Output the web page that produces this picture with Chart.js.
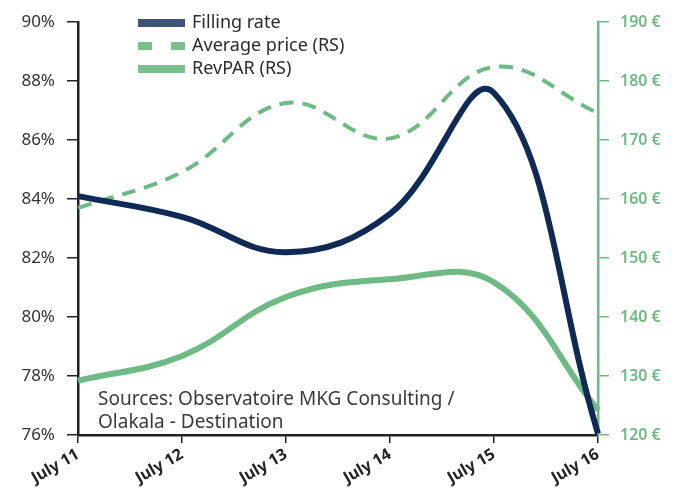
<!DOCTYPE html>
<html lang="en">
<head>
<meta charset="UTF-8">
<title>Filling rate and prices</title>
<script src="https://cdn.jsdelivr.net/npm/chart.js"></script>
<style>
  body { margin: 0; background: #fff; }
</style>
</head>
<body>
<canvas id="chart" width="689" height="496"></canvas>
<script>
var days = ['July 11', 'July 12', 'July 13', 'July 14', 'July 15', 'July 16'];
var fillingRate = [84.1, 83.4, 82.2, 83.5, 87.6, 76.05];
var averagePrice = [158.5, 164.6, 176.3, 170.3, 182.4, 174.6];
var revpar = [129.2, 133.4, 143.4, 146.4, 145.9, 124.2];
var sourceLines = ['Sources: Observatoire MKG Consulting /', 'Olakala - Destination'];

var navy = '#0f2b55';
var green = '#6dba85';
var fontFamily = '"Noto Sans", sans-serif';

// legend + source note drawn by hand
var notes = {
    id: 'notes',
    afterDraw: function (chart) {
        var ctx = chart.ctx;
        ctx.save();
        ctx.font = '18px ' + fontFamily;
        ctx.textBaseline = 'middle';
        chart.data.datasets.forEach(function (ds, i) {
            var y = 23 + i * 23;
            ctx.strokeStyle = ds.legendColor;
            ctx.lineWidth = 8;
            ctx.setLineDash(ds.borderDash ? [14, 19] : []);
            ctx.beginPath();
            ctx.moveTo(138, y);
            ctx.lineTo(185, y);
            ctx.stroke();
            ctx.setLineDash([]);
            ctx.fillStyle = '#2b2b2b';
            ctx.fillText(ds.label, 192, y);
        });
        ctx.font = '19px ' + fontFamily;
        ctx.fillStyle = '#3a3a3a';
        sourceLines.forEach(function (t, i) {
            ctx.fillText(t, 98, 400 + i * 23);
        });
        ctx.restore();
    }
};

new Chart(document.getElementById('chart'), {
    type: 'line',
    data: {
        labels: days,
        datasets: [{
            label: 'Filling rate',
            data: fillingRate,
            yAxisID: 'y',
            borderColor: navy,
            legendColor: '#3e5478',
            borderWidth: 6,
            tension: 0.4,
            pointRadius: 0
        }, {
            label: 'Average price (RS)',
            data: averagePrice,
            yAxisID: 'y1',
            borderColor: green,
            legendColor: '#7cbf8e',
            borderWidth: 4,
            borderDash: [14, 9],
            tension: 0.4,
            pointRadius: 0
        }, {
            label: 'RevPAR (RS)',
            data: revpar,
            yAxisID: 'y1',
            borderColor: green,
            legendColor: '#7cbf8e',
            borderWidth: 6,
            tension: 0.4,
            pointRadius: 0
        }]
    },
    options: {
        responsive: false,
        animation: false,
        layout: { padding: { top: 22, left: 0, right: 0, bottom: 0 } },
        plugins: {
            legend: { display: false },
            tooltip: { enabled: false }
        },
        scales: {
            x: {
                offset: false,
                grid: { drawOnChartArea: false, tickLength: 8, color: '#222', lineWidth: 1.5 },
                border: { color: '#222', width: 2.5 },
                ticks: {
                    minRotation: 30,
                    maxRotation: 30,
                    color: '#222',
                    padding: 2,
                    font: { family: fontFamily, size: 16, weight: 'bold' }
                },
                afterFit: function (s) { s.height = 61; }
            },
            y: {
                position: 'left',
                min: 76,
                max: 90,
                grid: { drawOnChartArea: false, tickLength: 11, color: '#222', lineWidth: 1.5 },
                border: { color: '#222', width: 2.5 },
                ticks: {
                    stepSize: 2,
                    color: '#333',
                    padding: 12,
                    font: { family: fontFamily, size: 17 },
                    callback: function (v) { return v + '%'; }
                },
                afterFit: function (s) { s.width = 78; }
            },
            y1: {
                position: 'right',
                min: 120,
                max: 190,
                grid: { drawOnChartArea: false, tickLength: 11, color: green, lineWidth: 1.5 },
                border: { color: green, width: 2.5 },
                ticks: {
                    stepSize: 10,
                    color: '#6dba85',
                    padding: 11,
                    font: { family: fontFamily, size: 16, weight: 600 },
                    callback: function (v) { return v + ' €'; }
                },
                afterFit: function (s) { s.width = 91; }
            }
        }
    },
    plugins: [notes]
});
</script>
</body>
</html>
